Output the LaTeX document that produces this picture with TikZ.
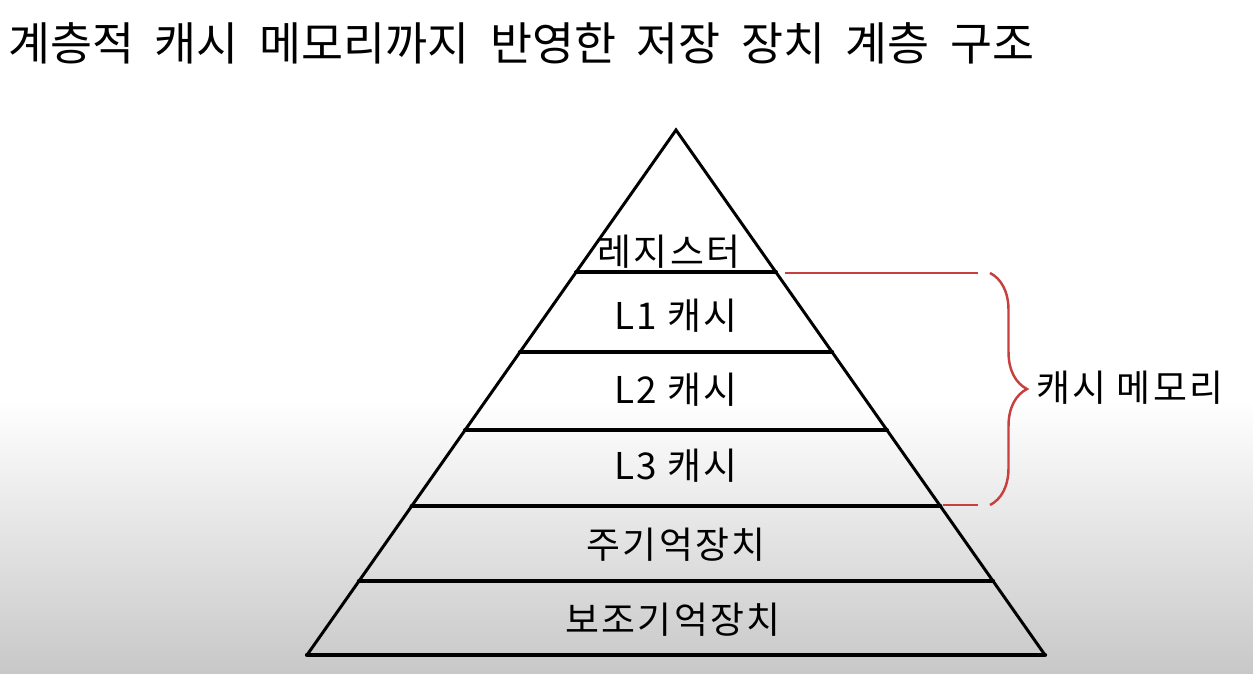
\documentclass[tikz,border=0pt]{standalone}
\usepackage{fontspec}
\setmainfont{Noto Sans CJK KR}
\newfontfamily\titlefont{Noto Sans CJK KR}[WordSpace=2]
\newfontfamily\handfont{Noto Sans CJK KR}[LetterSpace=6]
\usepackage{tikz}
\usetikzlibrary{decorations.pathreplacing}
\definecolor{braceRed}{RGB}{198,64,64}
\definecolor{paperGray}{RGB}{200,200,200}

\begin{document}
\begin{tikzpicture}[
  x=0.02cm, y=-0.02cm,
  every node/.style={font=\handfont\fontsize{21}{24}\selectfont},
  layer/.style={inner sep=0pt},
  edge/.style={line width=1.7pt,line join=miter},
  divider/.style={line width=2.4pt,line cap=round},
  bracket/.style={draw=braceRed,line width=1.4pt}
]
  % background
  \fill[white] (0,0) rectangle (1253,673);
  \shade[top color=white,bottom color=paperGray] (0,400) rectangle (1253,673);
  \useasboundingbox (0,0) rectangle (1253,673);

  \node[anchor=west,inner sep=0pt,font=\titlefont\fontsize{26}{30}\selectfont] (title) at (8,43)
    {계층적 캐시 메모리까지 반영한 저장 장치 계층 구조};

  % pyramid
  \coordinate (apex) at (676,130);
  \coordinate (baseL) at (307,655);
  \coordinate (baseR) at (1045,655);
  \draw[edge] (baseL) -- (apex) -- (baseR);
  \draw[divider] (baseL) -- (baseR);
  \foreach \y in {272,352,430,506,581}
    \draw[divider] ({676-0.703*(\y-130)},\y) -- ({676+0.703*(\y-130)},\y);

  \node[layer] (reg)     at (669,252) {레지스터};
  \node[layer] (l1)      at (676,316) {L1 캐시};
  \node[layer] (l2)      at (676,390) {L2 캐시};
  \node[layer] (l3)      at (676,466) {L3 캐시};
  \node[layer] (mainmem) at (676,545) {주기억장치};
  \node[layer] (storage) at (673,620) {보조기억장치};

  % cache bracket
  \coordinate (topA) at (785,273);
  \coordinate (topB) at (978,273);
  \coordinate (botA) at (943,505);
  \coordinate (botB) at (978,505);
  \coordinate (braceT) at (990,273);
  \coordinate (braceB) at (990,505);
  \draw[bracket] (topA) -- (topB);
  \draw[bracket] (botA) -- (botB);
  \draw[bracket,decorate,decoration={brace,amplitude=0.74cm,aspect=0.5}] (braceT) -- (braceB);
  \node[layer,anchor=west] (cache) at (1036,388) {캐시 메모리};
\end{tikzpicture}
\end{document}
